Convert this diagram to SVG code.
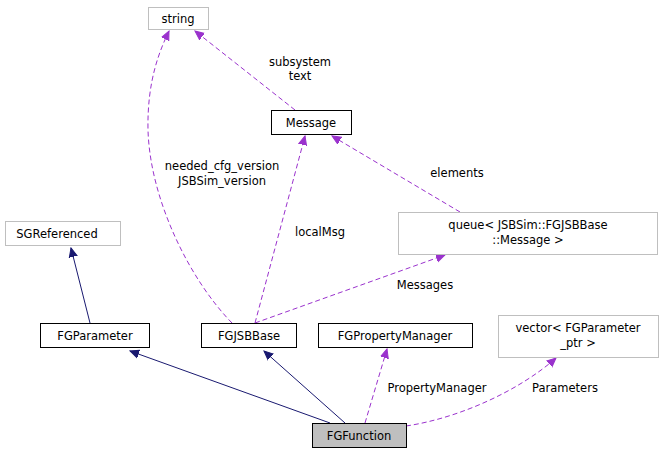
<svg xmlns="http://www.w3.org/2000/svg" width="664" height="453" viewBox="0 0 664 453">
<style>
.n{fill:#fff;stroke:#000;stroke-width:1}
.g{fill:#fff;stroke:#bfbfbf;stroke-width:1}
text{font-family:"DejaVu Sans",sans-serif;font-size:11.5px;fill:#000}
.c{text-anchor:middle}
.s{fill:none;stroke:#191970;stroke-width:1}
.d{fill:none;stroke:#9a32cd;stroke-width:1;stroke-dasharray:5,3}
</style>
<defs>
<marker id="an" markerWidth="10" markerHeight="10" refX="9" refY="5" orient="auto" markerUnits="userSpaceOnUse"><path d="M0,1 L9,5 L0,9 z" fill="#191970" stroke="#191970"/></marker>
<marker id="ap" markerWidth="10" markerHeight="10" refX="9" refY="5" orient="auto" markerUnits="userSpaceOnUse"><path d="M0,1 L9,5 L0,9 z" fill="#9a32cd" stroke="#9a32cd"/></marker>
</defs>
<rect width="664" height="453" fill="#fff"/>
<g id="edges">
<path class="s" d="M90,323 L71,248" marker-end="url(#an)"/>
<path class="s" d="M330,423 L130,351" marker-end="url(#an)"/>
<path class="s" d="M345,423 L264,351" marker-end="url(#an)"/>
<path class="d" d="M365,423 L387,349" marker-end="url(#ap)"/>
<path class="d" d="M406,426 C460,418 520,390 556,358" marker-end="url(#ap)"/>
<path class="d" d="M255,323 L445,255" marker-end="url(#ap)"/>
<path class="d" d="M255,323 L305,136" marker-end="url(#ap)"/>
<path class="d" d="M232,323 C190,280 150,200 148,130 C147,80 160,50 169,31" marker-end="url(#ap)"/>
<path class="d" d="M295,110 L195,31" marker-end="url(#ap)"/>
<path class="d" d="M460,212 L332,136" marker-end="url(#ap)"/>
<text x="437" y="392" class="c">PropertyManager</text>
<text x="565" y="392" class="c">Parameters</text>
<text x="425" y="289" class="c">Messages</text>
<text x="320" y="236" class="c">localMsg</text>
<text x="222" y="170" class="c">needed_cfg_version</text>
<text x="222" y="185" class="c">JSBSim_version</text>
<text x="300" y="66" class="c">subsystem</text>
<text x="300" y="80" class="c">text</text>
<text x="457" y="177" class="c">elements</text>
</g>
<g id="string"><rect class="g" x="148.5" y="7.5" width="60" height="22"/><text x="178" y="23" class="c">string</text></g>
<g id="Message"><rect class="n" x="271.5" y="110.5" width="80" height="24"/><text x="311" y="127" class="c">Message</text></g>
<g id="SGReferenced"><rect class="g" x="5.5" y="221.5" width="115" height="24"/><text x="57" y="238" class="c">SGReferenced</text></g>
<g id="queue"><rect class="g" x="398.5" y="212.5" width="259" height="42"/><text x="528" y="229" class="c">queue&lt; JSBSim::FGJSBBase</text><text x="528" y="244" class="c">::Message &gt;</text></g>
<g id="FGParameter"><rect class="n" x="40.5" y="323.5" width="109" height="24"/><text x="95" y="340" class="c">FGParameter</text></g>
<g id="FGJSBBase"><rect class="n" x="201.5" y="323.5" width="95" height="24"/><text x="249" y="340" class="c">FGJSBBase</text></g>
<g id="FGPropertyManager"><rect class="n" x="318.5" y="323.5" width="154" height="24"/><text x="395" y="340" class="c">FGPropertyManager</text></g>
<g id="vector"><rect class="g" x="498.5" y="315.5" width="160" height="42"/><text x="578" y="332" class="c">vector&lt; FGParameter</text><text x="578" y="347" class="c">_ptr &gt;</text></g>
<g id="FGFunction"><rect x="312.5" y="423.5" width="94" height="24" fill="#bfbfbf" stroke="#000"/><text x="359" y="440" class="c">FGFunction</text></g>
</svg>
